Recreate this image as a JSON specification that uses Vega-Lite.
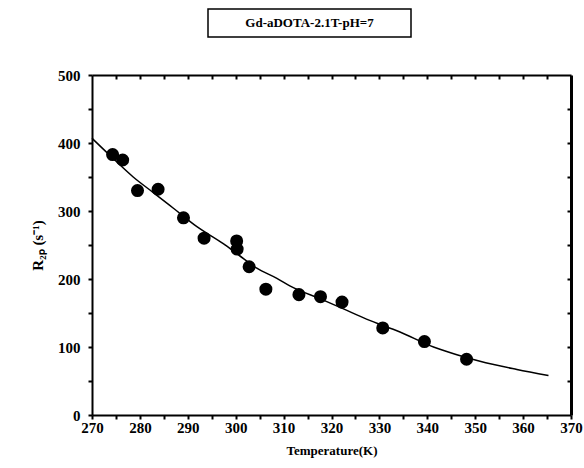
{
  "$schema": "https://vega.github.io/schema/vega-lite/v6.json",
  "background": "white",
  "padding": {"left": 30, "top": 8, "right": 5, "bottom": 5},
  "spacing": 30,
  "datasets": {
    "points": [
      {"T": 274.3, "R": 383},
      {"T": 276.4, "R": 375},
      {"T": 279.5, "R": 330},
      {"T": 283.8, "R": 332},
      {"T": 289.1, "R": 290},
      {"T": 293.4, "R": 260},
      {"T": 300.2, "R": 256},
      {"T": 300.3, "R": 244},
      {"T": 302.8, "R": 218},
      {"T": 306.3, "R": 185},
      {"T": 313.2, "R": 177},
      {"T": 317.7, "R": 174},
      {"T": 322.2, "R": 166},
      {"T": 330.7, "R": 128},
      {"T": 339.4, "R": 108},
      {"T": 348.2, "R": 82}
    ],
    "fit": [
      {"T": 270.0, "R": 407},
      {"T": 274.0, "R": 380},
      {"T": 278.6, "R": 350},
      {"T": 283.0, "R": 326},
      {"T": 287.0, "R": 304},
      {"T": 291.9, "R": 277},
      {"T": 297.4, "R": 252},
      {"T": 300.5, "R": 236},
      {"T": 304.4, "R": 216},
      {"T": 308.6, "R": 201},
      {"T": 311.3, "R": 190},
      {"T": 318.3, "R": 169},
      {"T": 322.5, "R": 156},
      {"T": 327.3, "R": 141},
      {"T": 334.3, "R": 122},
      {"T": 341.3, "R": 100},
      {"T": 346.0, "R": 89},
      {"T": 351.0, "R": 79},
      {"T": 358.7, "R": 67},
      {"T": 365.3, "R": 58}
    ],
    "title": [{"t": "Gd-aDOTA-2.1T-pH=7"}]
  },
  "vconcat": [
    {
      "spacing": 0,
      "hconcat": [
        {
          "width": 115,
          "height": 28,
          "view": {"stroke": null},
          "data": {"values": []},
          "mark": "point"
        },
        {
          "width": 203,
          "height": 28,
          "view": {"stroke": "black", "strokeWidth": 1.5},
          "data": {"name": "title"},
          "mark": {"type": "text", "font": "Liberation Serif", "fontWeight": "bold", "fontSize": 13, "color": "black"},
          "encoding": {"text": {"field": "t", "type": "nominal"}}
        }
      ]
    },
    {
      "width": 479,
      "height": 340,
      "view": {"stroke": null},
      "layer": [
        {
          "data": {"name": "fit"},
          "mark": {"type": "line", "color": "black", "strokeWidth": 1.5, "interpolate": "monotone"},
          "encoding": {
            "x": {
              "field": "T", "type": "quantitative",
              "scale": {"domain": [270, 370], "nice": false, "zero": false},
              "axis": {
                "orient": "bottom",
                "title": "Temperature(K)",
                "values": [270,275,280,285,290,295,300,305,310,315,320,325,330,335,340,345,350,355,360,365,370],
                "labelExpr": "datum.value % 10 === 0 ? datum.label : ''",
                "labelOverlap": false,
                "labelFlush": false,
                "grid": false,
                "tickSize": 4,
                "tickWidth": 2,
                "tickColor": "black",
                "domainColor": "black",
                "domainWidth": 2,
                "labelPadding": 1,
                "labelFont": "Liberation Serif",
                "labelFontWeight": "bold",
                "labelFontSize": 15,
                "labelColor": "black",
                "titleFont": "Liberation Serif",
                "titleFontWeight": "bold",
                "titleFontSize": 13,
                "titleColor": "black",
                "titlePadding": 9
              }
            },
            "y": {
              "field": "R", "type": "quantitative",
              "scale": {"domain": [0, 500], "nice": false},
              "axis": {
                "orient": "left",
                "title": "R₂ₚ (s⁻¹)",
                "values": [0,50,100,150,200,250,300,350,400,450,500],
                "labelExpr": "datum.value % 100 === 0 ? datum.label : ''",
                "labelOverlap": false,
                "labelFlush": false,
                "grid": false,
                "tickSize": 4,
                "tickWidth": 2,
                "tickColor": "black",
                "domainColor": "black",
                "domainWidth": 2,
                "labelPadding": 8,
                "labelFont": "Liberation Serif",
                "labelFontWeight": "bold",
                "labelFontSize": 15,
                "labelColor": "black",
                "titleFont": "Liberation Serif",
                "titleFontWeight": "bold",
                "titleFontSize": 15,
                "titleColor": "black",
                "titlePadding": 12
              }
            }
          }
        },
        {
          "data": {"name": "points"},
          "mark": {"type": "circle", "color": "black", "opacity": 1, "size": 170},
          "encoding": {
            "x": {
              "field": "T", "type": "quantitative",
              "scale": {"domain": [270, 370], "nice": false, "zero": false},
              "axis": {
                "orient": "top",
                "title": null,
                "labels": false,
                "values": [275,280,285,290,295,300,305,310,315,320,325,330,335,340,345,350,355,360,365],
                "grid": false,
                "tickSize": -4,
                "tickWidth": 2,
                "tickColor": "black",
                "domainColor": "black",
                "domainWidth": 2
              }
            },
            "y": {
              "field": "R", "type": "quantitative",
              "scale": {"domain": [0, 500], "nice": false},
              "axis": {
                "orient": "right",
                "title": null,
                "labels": false,
                "values": [50,100,150,200,250,300,350,400,450],
                "grid": false,
                "tickSize": -4,
                "tickWidth": 2,
                "tickColor": "black",
                "domainColor": "black",
                "domainWidth": 3
              }
            }
          }
        }
      ],
      "resolve": {"axis": {"x": "independent", "y": "independent"}}
    }
  ]
}
